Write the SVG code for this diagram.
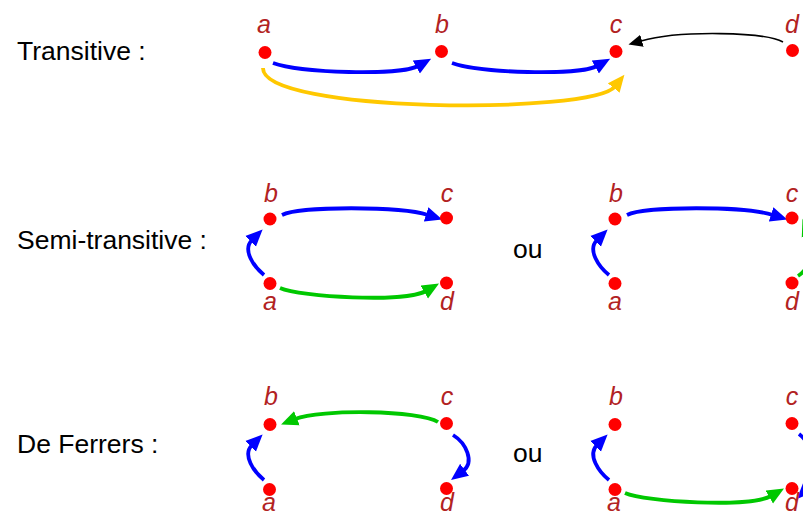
<svg xmlns="http://www.w3.org/2000/svg" width="803" height="517" viewBox="0 0 803 517">
<defs>
<style>
.title{font-family:"Liberation Sans",Arial,sans-serif;font-size:26.5px;fill:#000}
.lbl{font-family:"Liberation Sans",Arial,sans-serif;font-size:25px;font-style:italic;fill:#b22222;text-anchor:middle}
.dot{fill:#ff0000}
.e{fill:none;stroke-width:3.8}
.blue{stroke:#0000ff;marker-end:url(#ah-blue)}
.green{stroke:#00c800;marker-end:url(#ah-green)}
.yellow{stroke:#ffc800;marker-end:url(#ah-yellow)}
.black{stroke:#000;stroke-width:1.6;marker-end:url(#ah-black)}
</style>
<marker id="ah-blue" viewBox="0 -8 18 16" refX="2" refY="0" markerWidth="18" markerHeight="16" markerUnits="userSpaceOnUse" orient="auto"><path d="M0,-7.5 L17,0 L0,7.5 Z" fill="#0000ff"/></marker>
<marker id="ah-green" viewBox="0 -8 18 16" refX="2" refY="0" markerWidth="18" markerHeight="16" markerUnits="userSpaceOnUse" orient="auto"><path d="M0,-7.5 L17,0 L0,7.5 Z" fill="#00c800"/></marker>
<marker id="ah-yellow" viewBox="0 -8 18 16" refX="2" refY="0" markerWidth="18" markerHeight="16" markerUnits="userSpaceOnUse" orient="auto"><path d="M0,-7.5 L17,0 L0,7.5 Z" fill="#ffc800"/></marker>
<marker id="ah-black" viewBox="0 -7 15 14" refX="1" refY="0" markerWidth="15" markerHeight="14" markerUnits="userSpaceOnUse" orient="auto"><path d="M0,-6.3 L14,0 L0,6.3 Z" fill="#000"/></marker>
</defs>
<rect width="803" height="517" fill="#fff"/>

<g id="titles">
<text class="title" x="17" y="60">Transitive :</text>
<text class="title" x="17" y="249">Semi-transitive :</text>
<text class="title" x="17" y="453">De Ferrers :</text>
<text class="title" x="513" y="258">ou</text>
<text class="title" x="513" y="462">ou</text>
</g>

<g id="connectors">
<!-- row 1 -->
<path class="e blue" d="M273,63 C300,73 400,76 418,66"/>
<path class="e blue" d="M452,63 C479,73 579,76 597,66"/>
<path class="e yellow" d="M263,68 C262,113 592,115 615,86.5"/>
<path class="e black" d="M783,42 C765,32 680,30 641,41"/>
<!-- row 2 left -->
<path class="e blue" d="M282,215 C300,206 400,206 428,215"/>
<path class="e blue" d="M264,275 C254,267 242,250 252,240"/>
<path class="e green" d="M280,288 C300,297 405,303 426,291"/>
<!-- row 2 right -->
<path class="e blue" d="M627,215 C645,206 745,206 773,215"/>
<path class="e blue" d="M609,275 C599,267 587,250 597,240"/>
<path class="e green" d="M798,276 C811,268 814,248 808,232.8"/>
<!-- row 3 left -->
<path class="e green" d="M438,422 C420,410 320,409 295,419"/>
<path class="e blue" d="M264,480 C254,472 242,455 252,445"/>
<path class="e blue" d="M453,435 C466,443 475,462 463,471"/>
<!-- row 3 right -->
<path class="e blue" d="M609,480 C599,472 587,455 597,445"/>
<path class="e green" d="M625,493 C645,502 750,508 771,496"/>
<path class="e blue" d="M799,434 C815,446 818,478 807.5,488.4"/>
</g>

<g id="r1-a"><circle class="dot" cx="265" cy="52.5" r="6.5"/><text class="lbl" x="264" y="33">a</text></g>
<g id="r1-b"><circle class="dot" cx="441.5" cy="51.5" r="6.5"/><text class="lbl" x="442" y="33">b</text></g>
<g id="r1-c"><circle class="dot" cx="616" cy="51.5" r="6.5"/><text class="lbl" x="616" y="33">c</text></g>
<g id="r1-d"><circle class="dot" cx="792.5" cy="50.5" r="6.5"/><text class="lbl" x="792" y="33">d</text></g>

<g id="r2l-b"><circle class="dot" cx="270" cy="219" r="6.5"/><text class="lbl" x="271" y="202">b</text></g>
<g id="r2l-c"><circle class="dot" cx="446.5" cy="218" r="6.5"/><text class="lbl" x="447" y="202">c</text></g>
<g id="r2l-a"><circle class="dot" cx="270" cy="283.5" r="6.5"/><text class="lbl" x="270" y="310">a</text></g>
<g id="r2l-d"><circle class="dot" cx="446.5" cy="283" r="6.5"/><text class="lbl" x="447" y="310">d</text></g>

<g id="r2r-b"><circle class="dot" cx="615" cy="219" r="6.5"/><text class="lbl" x="616" y="202">b</text></g>
<g id="r2r-c"><circle class="dot" cx="792" cy="218" r="6.5"/><text class="lbl" x="792" y="202">c</text></g>
<g id="r2r-a"><circle class="dot" cx="615" cy="283.5" r="6.5"/><text class="lbl" x="615" y="310">a</text></g>
<g id="r2r-d"><circle class="dot" cx="792" cy="283" r="6.5"/><text class="lbl" x="792" y="310">d</text></g>

<g id="r3l-b"><circle class="dot" cx="270" cy="424.5" r="6.5"/><text class="lbl" x="271" y="405">b</text></g>
<g id="r3l-c"><circle class="dot" cx="446.5" cy="423.5" r="6.5"/><text class="lbl" x="447" y="405">c</text></g>
<g id="r3l-a"><circle class="dot" cx="269.5" cy="489.5" r="6.5"/><text class="lbl" x="269" y="511">a</text></g>
<g id="r3l-d"><circle class="dot" cx="446.5" cy="488.5" r="6.5"/><text class="lbl" x="447" y="511">d</text></g>

<g id="r3r-b"><circle class="dot" cx="615" cy="424.5" r="6.5"/><text class="lbl" x="616" y="405">b</text></g>
<g id="r3r-c"><circle class="dot" cx="792" cy="423.5" r="6.5"/><text class="lbl" x="792" y="405">c</text></g>
<g id="r3r-a"><circle class="dot" cx="615" cy="489.5" r="6.5"/><text class="lbl" x="614" y="511">a</text></g>
<g id="r3r-d"><circle class="dot" cx="792" cy="488.5" r="6.5"/><text class="lbl" x="792" y="511">d</text></g>
</svg>
